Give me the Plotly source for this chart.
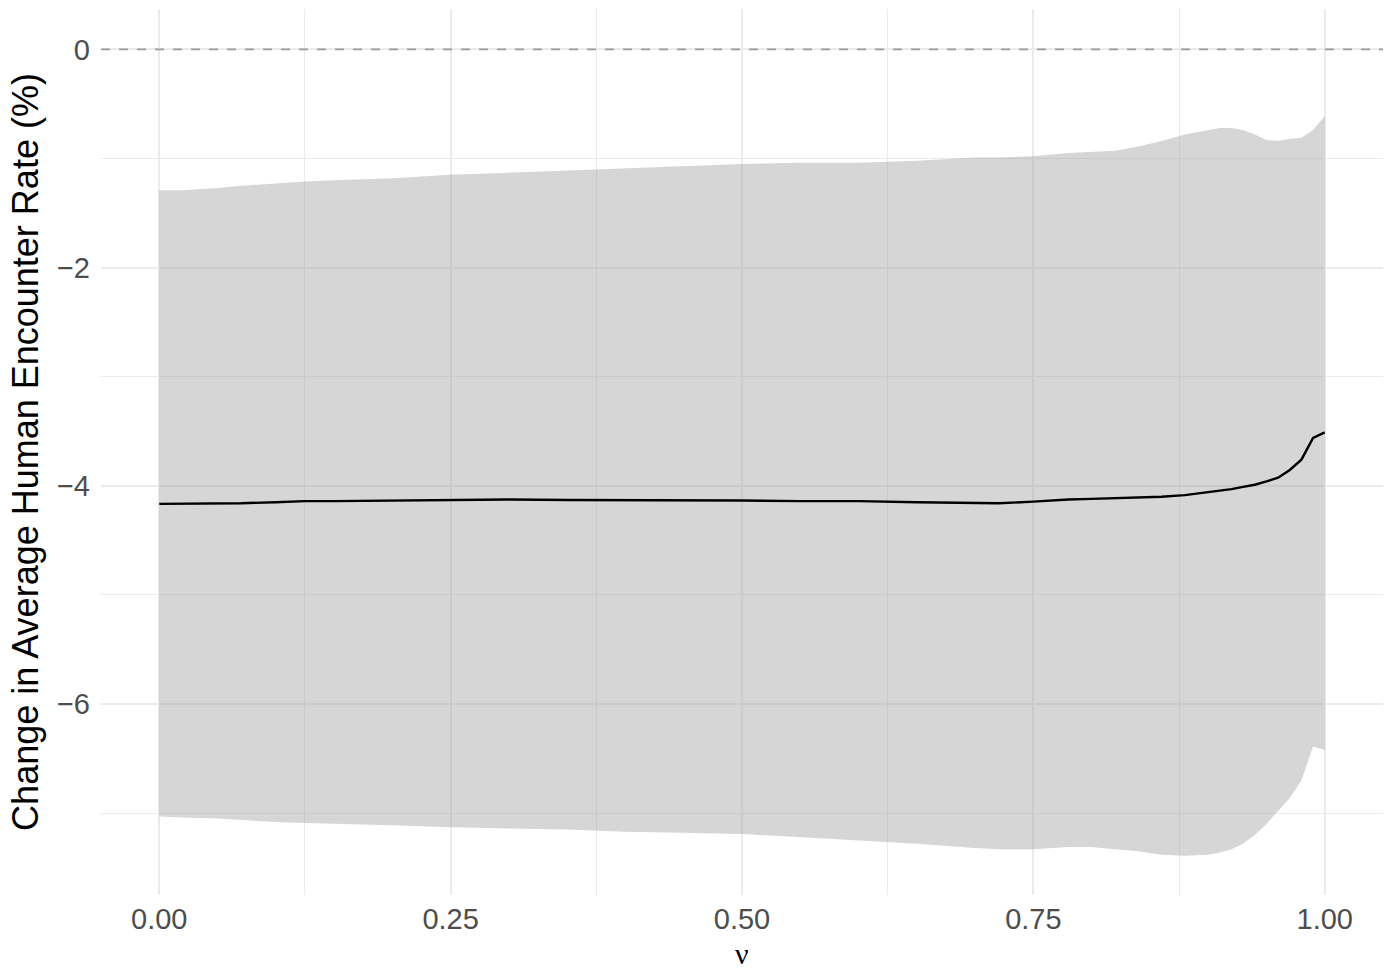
import plotly.graph_objects as go

# Sensitivity of the encounter-rate change to nu
nu = [0, 0.02, 0.05, 0.07, 0.1, 0.125, 0.15, 0.2, 0.25, 0.3, 0.35, 0.4, 0.45,
      0.5, 0.55, 0.6, 0.65, 0.7, 0.72, 0.75, 0.78, 0.8, 0.82, 0.84, 0.86, 0.88,
      0.9, 0.91, 0.92, 0.93, 0.94, 0.95, 0.96, 0.97, 0.98, 0.99, 1.0]

mean_change = [-4.165, -4.165, -4.16, -4.16, -4.15, -4.14, -4.14, -4.135, -4.13,
               -4.125, -4.13, -4.13, -4.135, -4.135, -4.14, -4.14, -4.15, -4.155,
               -4.16, -4.145, -4.125, -4.12, -4.115, -4.11, -4.10, -4.085, -4.06,
               -4.045, -4.03, -4.01, -3.99, -3.96, -3.925, -3.855, -3.76, -3.56, -3.51]

upper = [-1.29, -1.29, -1.27, -1.25, -1.23, -1.21, -1.20, -1.18, -1.15, -1.13,
         -1.11, -1.09, -1.07, -1.05, -1.04, -1.04, -1.02, -0.99, -0.99, -0.98,
         -0.95, -0.94, -0.93, -0.89, -0.84, -0.78, -0.74, -0.72, -0.72, -0.74,
         -0.78, -0.83, -0.84, -0.82, -0.81, -0.74, -0.61]

lower = [-7.03, -7.04, -7.05, -7.06, -7.08, -7.09, -7.10, -7.11, -7.13, -7.14,
         -7.15, -7.17, -7.18, -7.19, -7.22, -7.25, -7.28, -7.32, -7.33, -7.33,
         -7.31, -7.31, -7.33, -7.35, -7.38, -7.39, -7.38, -7.36, -7.33, -7.28,
         -7.20, -7.10, -6.98, -6.86, -6.70, -6.39, -6.42]

x_ticks = [0, 0.25, 0.5, 0.75, 1.0]
x_tick_labels = ["0.00", "0.25", "0.50", "0.75", "1.00"]
y_ticks = [0, -2, -4, -6]
y_tick_labels = ["0", "\u22122", "\u22124", "\u22126"]

grid = "#ebebeb"
tick_font = dict(family="Liberation Sans, Arial, sans-serif", size=29, color="#4d4d4d")
title_font = dict(family="Liberation Sans, Arial, sans-serif", size=36, color="black")

fig = go.Figure()

# uncertainty ribbon
fig.add_trace(go.Scatter(
    x=nu + nu[::-1], y=upper + lower[::-1],
    fill="toself", fillcolor="rgba(153,153,153,0.4)",
    line=dict(width=0), mode="lines", hoverinfo="skip", showlegend=False,
))

# mean curve
fig.add_trace(go.Scatter(
    x=nu, y=mean_change, mode="lines",
    line=dict(color="black", width=2.4), showlegend=False,
))

# zero reference
fig.add_shape(type="line", xref="paper", yref="y", x0=0, x1=1, y0=0, y1=0,
              line=dict(color="#9a9a9a", width=1.8, dash="dash"))

# x-axis title placed as an annotation below the tick labels
fig.add_annotation(text="\u03bd", xref="paper", yref="paper", x=0.5, y=0,
                   xanchor="center", yanchor="top", yshift=-41, showarrow=False,
                   borderpad=0,
                   font=dict(family="Liberation Serif, serif", size=30, color="black"))

fig.update_layout(
    width=1392, height=969,
    margin=dict(l=101, r=9, t=9, b=74),
    paper_bgcolor="white", plot_bgcolor="white",
    xaxis=dict(
        range=[-0.05, 1.05], tickvals=x_ticks, ticktext=x_tick_labels,
        showgrid=True, gridcolor=grid, gridwidth=1.6, zeroline=False,
        showline=False, ticks="", tickfont=tick_font, ticklabelstandoff=4,
        minor=dict(tickvals=[0.125, 0.375, 0.625, 0.875], showgrid=True,
                   gridcolor=grid, gridwidth=0.9, ticks=""),
    ),
    yaxis=dict(
        range=[-7.75, 0.37], tickvals=y_ticks, ticktext=y_tick_labels,
        showgrid=True, gridcolor=grid, gridwidth=1.6, zeroline=False,
        showline=False, ticks="", tickfont=tick_font, ticklabelstandoff=10,
        minor=dict(tickvals=[-1, -3, -5, -7], showgrid=True,
                   gridcolor=grid, gridwidth=0.9, ticks=""),
        title=dict(text="Change in Average Human Encounter Rate (%)",
                   font=title_font, standoff=7),
    ),
)

fig.write_html("out.html")
